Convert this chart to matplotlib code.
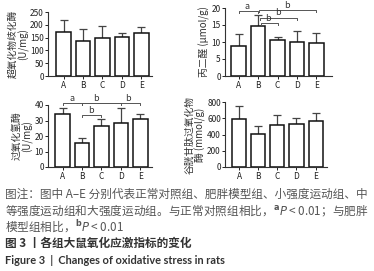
import matplotlib
matplotlib.use("Agg")
import matplotlib.pyplot as plt

plt.rcParams['font.family'] = ['Noto Sans CJK SC', 'DejaVu Sans']
plt.rcParams['mathtext.fontset'] = 'dejavusans'

groups = ['A', 'B', 'C', 'D', 'E']

sod_mean = [172, 137, 148, 153, 168]
sod_err = [48, 48, 47, 15, 22]

mda_mean = [8.7, 14.8, 10.6, 10.0, 9.6]
mda_err = [3.6, 3.2, 0.8, 3.2, 3.0]

cat_mean = [34.0, 15.8, 26.5, 28.2, 30.8]
cat_err = [3.9, 3.2, 4.3, 9.7, 3.2]

gpx_mean = [595, 410, 513, 525, 570]
gpx_err = [152, 99, 123, 74, 95]

# brackets: (from, to, height, label, label x)
mda_marks = [(0, 1, 19.0, 'a', 0.45), (1.05, 4, 19.3, 'b', 2.5),
             (1.1, 3, 17.2, 'b', 2.0), (1.15, 2, 15.6, 'b', 1.5)]
cat_marks = [(0, 1, 41.0, 'a', 0.5), (1, 3, 41.0, 'b', 1.7), (1, 4, 41.0, 'b', 3.35),
             (1, 2, 33.5, 'b', 1.45)]

fig = plt.figure(figsize=(3.74, 2.71), dpi=100)


def px_axes(x0, x1, ytop, ybot):
    return fig.add_axes([x0 / 374, 1 - ybot / 271, (x1 - x0) / 374, (ybot - ytop) / 271])


def draw_panel(ax, means, errs, ylim, yticks, ylabel, xlim, marks=None, step=None):
    xs = list(range(len(groups)))
    ax.bar(xs, means, width=0.74, color='white', edgecolor='#111111', linewidth=1.1, zorder=2)
    ax.errorbar(xs, means, yerr=[[0] * len(errs), errs], fmt='none', ecolor='#444444',
                elinewidth=0.9, capsize=3, capthick=0.9, zorder=1)
    ax.set_xlim(*xlim)
    ax.set_ylim(*ylim)
    ax.set_yticks(yticks)
    ax.set_xticks(xs)
    ax.set_xticklabels(groups)
    ax.spines['top'].set_visible(False)
    ax.spines['right'].set_visible(False)
    for s in ['left', 'bottom']:
        ax.spines[s].set_linewidth(0.8)
        ax.spines[s].set_color('#333333')
    ax.tick_params(axis='both', labelsize=6, length=2, width=0.7, pad=1, colors='#222222')
    ax.tick_params(axis='x', length=2.5)
    ax.set_ylabel(ylabel, fontsize=7, color='#333333', labelpad=1, linespacing=1.0)
    if marks:
        for x0, x1, h, lab, lx in marks:
            d = step
            ax.plot([x0, x0, x1, x1], [h - d, h, h, h - d], color='#555555', lw=0.7,
                    clip_on=False)
            ax.text(lx, h + d * 0.2, lab, fontsize=6.5, ha='center', va='bottom',
                    color='#333333')


ax1 = px_axes(48, 152, 12, 76)
draw_panel(ax1, sod_mean, sod_err, (0, 250), [0, 50, 100, 150, 200, 250],
           '超氧化物歧化酶\n(U/mg)', (-0.8, 4.55))

ax2 = px_axes(225, 332, 8, 76)
draw_panel(ax2, mda_mean, mda_err, (0, 20), [0, 5, 10, 15, 20],
           '丙二醛 (μmol/g)', (-0.7, 4.8), mda_marks, 0.6)

ax3 = px_axes(48, 152, 105, 167)
draw_panel(ax3, cat_mean, cat_err, (0, 40), [0, 10, 20, 30, 40],
           '过氧化氢酶\n(U/mg)', (-0.75, 4.6), cat_marks, 1.3)

ax4 = px_axes(225, 327, 102, 167)
draw_panel(ax4, gpx_mean, gpx_err, (0, 800), [0, 200, 400, 600, 800],
           '谷胱甘肽过氧化物\n酶 (mmol/g)', (-0.75, 4.6))

cap = '#555555'
fsz = 8.4
fig.text(0.013, 1 - 194 / 271, '图注：图中 A–E 分别代表正常对照组、肥胖模型组、小强度运动组、中',
         fontsize=fsz, color=cap, va='center')
fig.text(0.013, 1 - 211 / 271,
         '等强度运动组和大强度运动组。与正常对照组相比，$^{\\mathbf{a}}\\mathit{P}$ < 0.01；与肥胖',
         fontsize=fsz, color=cap, va='center')
fig.text(0.013, 1 - 227 / 271, '模型组相比，$^{\\mathbf{b}}\\mathit{P}$ < 0.01',
         fontsize=fsz, color=cap, va='center')
fig.text(0.013, 1 - 243 / 271, '图 3 丨各组大鼠氧化应激指标的变化', fontsize=fsz,
         color='#333333', va='center', fontweight='bold')
fig.text(0.013, 1 - 260 / 271, 'Figure 3  |  Changes of oxidative stress in rats', fontsize=7.9,
         color='#333333', va='center', fontweight='bold', family=['Lato', 'DejaVu Sans'])

fig.savefig('out.png', dpi=100)
